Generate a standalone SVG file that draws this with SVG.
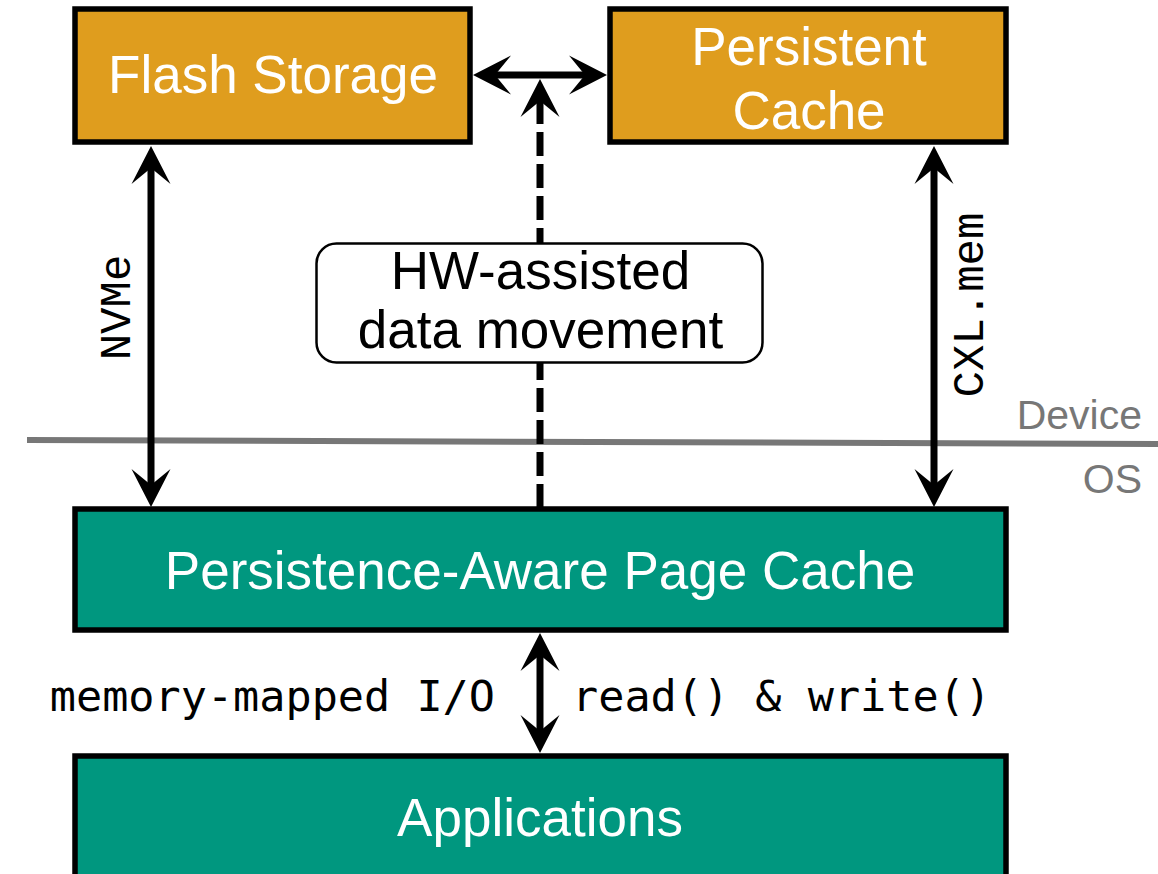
<svg xmlns="http://www.w3.org/2000/svg" width="1158" height="874" viewBox="0 0 1158 874">
  <style>
    .box { stroke: #000; stroke-width: 5.5; }
    .device { fill: #DF9D1E; }
    .os { fill: #00977F; }
    .label { font-family: "Liberation Sans", Arial, sans-serif; font-size: 53px; fill: #fff; text-anchor: middle; }
    .dark { fill: #000; }
    .layer { font-family: "Liberation Sans", Arial, sans-serif; font-size: 41px; fill: #777; text-anchor: end; }
    .mono { font-family: "DejaVu Sans Mono", monospace; font-size: 43.5px; fill: #000; }
    .vmono { font-family: "Liberation Mono", monospace; font-size: 44px; fill: #000; text-anchor: middle; }
    .link { fill: none; stroke: #000; stroke-width: 7; }
    .dashed { stroke-dasharray: 24 8; }
    .divider { stroke: #777; stroke-width: 6; fill: none; }
  </style>
  <defs>
    <marker id="head" markerUnits="userSpaceOnUse" viewBox="-40 -21 42 42" markerWidth="42" markerHeight="42" refX="-20" refY="0" orient="auto-start-reverse" overflow="visible">
      <path d="M0,0 L-38,-19.5 L-22,0 L-38,19.5 Z" fill="#000"/>
    </marker>
  </defs>

  <rect width="1158" height="874" fill="#fff"/>

  <!-- device / OS boundary -->
  <g id="boundary">
    <line class="divider" x1="27" y1="440" x2="1158" y2="444"/>
    <text class="layer" x="1142" y="429">Device</text>
    <text class="layer" x="1142" y="493">OS</text>
  </g>

  <!-- connectors -->
  <g id="connectors">
    <path class="link" d="M151,166 V487" marker-start="url(#head)" marker-end="url(#head)"/>
    <path class="link" d="M934,166 V487" marker-start="url(#head)" marker-end="url(#head)"/>
    <path class="link" d="M493,75 H587" marker-start="url(#head)" marker-end="url(#head)"/>
    <path class="link dashed" d="M540,508 V99" marker-end="url(#head)"/>
    <path class="link" d="M540,653 V733" marker-start="url(#head)" marker-end="url(#head)"/>
    <text class="vmono" transform="translate(130,307.5) rotate(-90)">NVMe</text>
    <text class="vmono" transform="translate(983,305) rotate(-90)">CXL.mem</text>
    <text class="mono" x="495" y="711" text-anchor="end">memory-mapped I/O</text>
    <text class="mono" x="572" y="711">read() &amp; write()</text>
  </g>

  <g id="flash-storage">
    <rect class="box device" x="75" y="9" width="395" height="133"/>
    <text class="label" x="273" y="93">Flash Storage</text>
  </g>

  <g id="persistent-cache">
    <rect class="box device" x="610" y="9" width="396" height="133"/>
    <text class="label" x="809" y="65">Persistent</text>
    <text class="label" x="809" y="129">Cache</text>
  </g>

  <g id="hw-data-movement">
    <rect x="316.5" y="243.5" width="446" height="119" rx="20" ry="20" fill="#fff" stroke="#000" stroke-width="2.5"/>
    <text class="label dark" x="540.5" y="289">HW-assisted</text>
    <text class="label dark" x="540.5" y="348">data movement</text>
  </g>

  <g id="page-cache">
    <rect class="box os" x="75" y="509" width="931" height="121"/>
    <text class="label" x="540" y="589">Persistence-Aware Page Cache</text>
  </g>

  <g id="applications">
    <rect class="box os" x="75" y="756" width="931" height="130"/>
    <text class="label" x="540" y="836">Applications</text>
  </g>
</svg>
